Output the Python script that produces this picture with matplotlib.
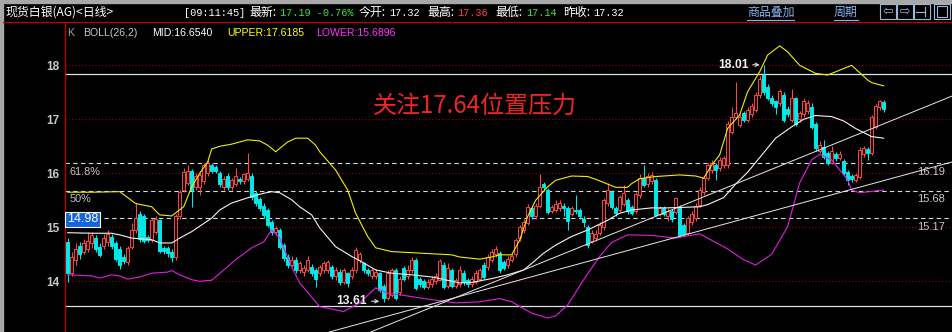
import matplotlib
matplotlib.use('Agg')
import matplotlib.pyplot as plt
from matplotlib.patches import Rectangle
from matplotlib.lines import Line2D
import numpy as np

W, H = 952, 332

# ---------------- data ----------------
ohlc = [
    # open, close, high, low
    (14.73, 14.15, 14.80, 13.99), (14.15, 14.45, 14.55, 14.10), (14.40, 14.60, 14.70, 14.30),
    (14.65, 14.50, 14.72, 14.42), (14.55, 14.70, 14.78, 14.50), (14.60, 14.75, 14.92, 14.55),
    (14.70, 14.85, 14.92, 14.62), (14.80, 14.60, 14.85, 14.55), (14.64, 14.48, 14.70, 14.45),
    (14.65, 14.80, 14.88, 14.60), (14.72, 14.88, 14.95, 14.65), (14.82, 14.65, 14.88, 14.60),
    (14.70, 14.42, 14.75, 14.38), (14.60, 14.30, 14.65, 14.22), (14.45, 14.38, 14.50, 14.32),
    (14.36, 14.62, 14.66, 14.30), (14.64, 14.95, 15.08, 14.60), (14.95, 15.17, 15.45, 14.90),
    (15.25, 14.78, 15.30, 14.72), (15.20, 14.75, 15.24, 14.70), (14.82, 14.76, 14.86, 14.72),
    (14.76, 15.13, 15.18, 14.72), (14.92, 15.16, 15.20, 14.88), (15.13, 14.56, 15.16, 14.52),
    (14.62, 14.56, 14.66, 14.50), (14.62, 14.52, 14.66, 14.45), (14.55, 14.45, 14.60, 14.36),
    (14.45, 15.20, 15.24, 14.40), (15.20, 15.66, 15.70, 15.15), (15.70, 16.02, 16.10, 15.65),
    (15.82, 16.05, 16.15, 15.78), (16.05, 15.70, 16.08, 15.38), (15.75, 15.95, 16.00, 15.70),
    (15.75, 15.97, 16.02, 15.60), (15.85, 16.15, 16.20, 15.80), (16.00, 16.20, 16.25, 15.95),
    (16.15, 16.05, 16.20, 16.00), (16.12, 16.05, 16.16, 16.00), (16.00, 15.80, 16.05, 15.75),
    (15.75, 15.90, 15.95, 15.70), (15.95, 15.75, 16.00, 15.70), (15.75, 15.88, 15.92, 15.70),
    (15.80, 15.95, 16.10, 15.76), (15.90, 15.85, 15.94, 15.80), (15.85, 15.98, 16.00, 15.80),
    (15.90, 16.00, 16.37, 15.86), (15.95, 15.56, 16.00, 15.50), (15.63, 15.45, 15.68, 15.40),
    (15.52, 15.35, 15.56, 15.30), (15.40, 15.23, 15.45, 15.18), (15.32, 15.05, 15.36, 15.00),
    (15.10, 14.91, 15.14, 14.86), (14.92, 14.98, 15.02, 14.88), (14.95, 14.64, 14.98, 14.60),
    (14.67, 14.43, 14.70, 14.38), (14.45, 14.30, 14.50, 14.25), (14.30, 14.40, 14.46, 14.26),
    (14.39, 14.21, 14.45, 14.15), (14.21, 14.33, 14.38, 14.16), (14.18, 14.25, 14.30, 14.10),
    (14.21, 14.39, 14.46, 14.18), (14.27, 14.15, 14.32, 14.10), (14.21, 14.05, 14.25, 13.90),
    (14.15, 14.27, 14.30, 14.10), (14.21, 14.33, 14.38, 14.16), (14.21, 14.36, 14.40, 14.15),
    (14.27, 14.09, 14.30, 14.04), (14.09, 14.21, 14.26, 14.02), (14.18, 13.99, 14.22, 13.94),
    (13.99, 14.21, 14.25, 13.95), (14.15, 13.96, 14.18, 13.90), (14.09, 14.21, 14.26, 14.05),
    (14.20, 14.58, 14.63, 14.15), (14.39, 14.50, 14.55, 14.33), (14.33, 14.21, 14.36, 14.15),
    (14.21, 14.15, 14.25, 14.10), (14.09, 14.21, 14.25, 14.05), (14.10, 14.18, 14.22, 14.05),
    (14.15, 13.84, 14.18, 13.80), (13.92, 13.69, 13.95, 13.61), (13.69, 14.15, 14.20, 13.65),
    (13.75, 14.20, 14.24, 13.70), (14.21, 13.69, 14.25, 13.66), (13.80, 14.05, 14.10, 13.75),
    (14.25, 14.05, 14.28, 14.00), (14.10, 14.20, 14.30, 14.05), (14.20, 14.40, 14.45, 14.15),
    (14.40, 13.88, 14.43, 13.84), (14.05, 13.95, 14.08, 13.90), (14.00, 13.90, 14.05, 13.86),
    (13.90, 13.99, 14.04, 13.86), (13.95, 14.05, 14.10, 13.90), (14.00, 14.10, 14.15, 13.95),
    (14.03, 14.37, 14.42, 14.00), (14.30, 13.90, 14.35, 13.86), (13.92, 14.25, 14.33, 13.88),
    (14.20, 13.92, 14.24, 13.88), (13.92, 14.02, 14.07, 13.88), (13.95, 14.20, 14.28, 13.90),
    (14.15, 13.98, 14.20, 13.93), (14.02, 13.95, 14.06, 13.90), (13.95, 14.05, 14.10, 13.90),
    (13.99, 14.15, 14.20, 13.95), (14.05, 14.20, 14.25, 14.00), (14.30, 14.08, 14.35, 14.05),
    (14.26, 14.45, 14.50, 14.20), (14.40, 14.55, 14.60, 14.35), (14.50, 14.60, 14.65, 14.45),
    (14.52, 14.20, 14.56, 14.15), (14.35, 14.25, 14.40, 14.20), (14.30, 14.42, 14.47, 14.25),
    (14.40, 14.47, 14.52, 14.35), (14.50, 14.76, 14.80, 14.45), (14.80, 15.00, 15.05, 14.75),
    (14.95, 15.10, 15.15, 14.90), (15.08, 15.38, 15.44, 15.04), (15.35, 15.20, 15.40, 15.15),
    (15.20, 15.40, 15.45, 15.15), (15.40, 15.75, 15.98, 15.35), (15.80, 15.74, 15.84, 15.70),
    (15.69, 15.28, 15.72, 15.24), (15.30, 15.38, 15.42, 15.26), (15.32, 15.44, 15.50, 15.28),
    (15.35, 15.45, 15.50, 15.30), (15.40, 15.35, 15.45, 15.20), (15.35, 15.12, 15.40, 14.95),
    (15.25, 15.35, 15.40, 15.20), (15.32, 15.30, 15.60, 15.25), (15.32, 15.20, 15.36, 15.15),
    (15.16, 15.10, 15.20, 15.01), (15.01, 14.67, 15.05, 14.62), (14.75, 14.90, 14.95, 14.70),
    (14.80, 14.88, 14.95, 14.75), (14.90, 15.05, 15.10, 14.85), (15.00, 15.50, 15.55, 14.95),
    (15.45, 15.69, 15.82, 15.40), (15.65, 15.38, 15.70, 15.34), (15.35, 15.26, 15.40, 15.20),
    (15.32, 15.56, 15.60, 15.28), (15.44, 15.63, 15.79, 15.40), (15.50, 15.30, 15.55, 15.25),
    (15.38, 15.26, 15.42, 15.22), (15.30, 15.62, 15.66, 15.26), (15.60, 15.92, 15.98, 15.55),
    (15.91, 15.78, 16.15, 15.74), (15.80, 15.95, 16.00, 15.75), (15.85, 15.97, 16.02, 15.80),
    (15.88, 15.23, 15.92, 15.20), (15.25, 15.35, 15.40, 15.20), (15.35, 15.25, 15.40, 15.20),
    (15.20, 15.30, 15.35, 15.12), (15.30, 15.15, 15.34, 15.10), (15.29, 15.54, 15.57, 15.25),
    (15.38, 14.86, 15.42, 14.82), (15.04, 14.88, 15.08, 14.84), (14.89, 15.17, 15.20, 14.85),
    (15.10, 15.25, 15.30, 15.05), (15.17, 15.40, 15.45, 15.12), (15.41, 15.70, 15.74, 15.37),
    (15.65, 15.91, 15.95, 15.60), (15.91, 16.15, 16.20, 15.88), (16.06, 16.20, 16.24, 16.00),
    (16.15, 16.06, 16.20, 15.88), (16.10, 16.25, 16.30, 16.05), (16.15, 16.28, 16.32, 16.10),
    (16.15, 16.92, 16.96, 16.10), (16.77, 17.05, 17.23, 16.72), (17.05, 17.11, 17.70, 17.00),
    (16.90, 17.05, 17.10, 16.86), (17.11, 16.99, 17.15, 16.95), (16.99, 17.17, 17.22, 16.95),
    (17.10, 17.25, 17.30, 17.05), (17.17, 17.45, 17.50, 17.13), (17.45, 17.75, 17.80, 17.40),
    (17.82, 17.50, 18.01, 17.45), (17.60, 17.39, 17.65, 17.35), (17.40, 17.30, 17.45, 17.25),
    (17.33, 17.23, 17.36, 17.10), (17.30, 17.52, 17.57, 17.25), (17.45, 16.99, 17.50, 16.95),
    (17.20, 17.10, 17.25, 17.05), (16.99, 17.40, 17.57, 16.95), (17.39, 16.92, 17.42, 16.88),
    (17.00, 17.12, 17.16, 16.95), (17.10, 17.33, 17.39, 17.05), (17.15, 17.30, 17.36, 17.10),
    (17.23, 16.86, 17.30, 16.82), (16.92, 16.46, 16.95, 16.42), (16.42, 16.52, 16.60, 16.38),
    (16.48, 16.30, 16.62, 16.26), (16.38, 16.20, 16.42, 16.16), (16.20, 16.42, 16.50, 16.17),
    (16.35, 16.28, 16.40, 16.22), (16.28, 16.36, 16.42, 16.24), (16.22, 16.00, 16.26, 15.96),
    (16.03, 15.88, 16.06, 15.78), (15.95, 15.90, 15.98, 15.84), (15.88, 15.96, 16.00, 15.84),
    (15.94, 16.43, 16.48, 15.90), (16.35, 16.46, 16.50, 16.30), (16.45, 16.38, 16.48, 16.25),
    (16.37, 17.05, 17.08, 16.33), (16.86, 17.24, 17.28, 16.82), (17.22, 17.33, 17.36, 17.18),
    (17.32, 17.19, 17.36, 17.14),
]
opens = [r[0] for r in ohlc]
closes = [r[1] for r in ohlc]
highs = [r[2] for r in ohlc]
lows = [r[3] for r in ohlc]

upper_idx = [0, 6, 13, 17, 21, 23, 26, 29, 31, 33, 35, 36, 38, 41, 45, 48, 50, 52, 55, 57, 60, 62,
             63, 67, 70, 72, 75, 77, 81, 86, 91, 96, 98, 103, 106, 108, 111, 113, 115, 117, 120, 122,
             126, 130, 132, 135, 137, 140, 141, 143, 147, 153, 157, 159, 161, 163, 165, 168, 170,
             173, 175, 178, 180, 183, 187, 190, 193, 196, 200, 201, 204]
upper_val = [15.65, 15.65, 15.66, 15.44, 15.38, 15.23, 15.21, 15.38, 15.75, 16.00, 16.21, 16.45, 16.50,
             16.54, 16.62, 16.60, 16.52, 16.40, 16.58, 16.65, 16.65, 16.52, 16.40, 16.06, 15.69, 15.26,
             14.83, 14.62, 14.55, 14.53, 14.51, 14.49, 14.45, 14.41, 14.45, 14.49, 14.49, 14.76, 15.20,
             15.50, 15.75, 15.87, 15.95, 15.94, 15.89, 15.80, 15.74, 15.74, 15.81, 15.90, 15.94, 15.97,
             15.95, 15.91, 16.15, 16.34, 16.83, 17.08, 17.51, 17.88, 18.19, 18.36, 18.25, 18.00, 17.85,
             17.82, 17.91, 18.00, 17.73, 17.68, 17.62]

mid_idx = [0, 6, 11, 13, 16, 21, 23, 26, 28, 31, 33, 36, 38, 41, 46, 49, 51, 53, 56, 58, 61, 63, 67,
           71, 74, 77, 81, 86, 91, 93, 98, 101, 106, 110, 114, 116, 119, 122, 126, 130, 135, 138, 141,
           146, 150, 158, 160, 164, 167, 170, 174, 177, 181, 184, 187, 191, 194, 197, 201, 204]
mid_val = [14.90, 14.89, 14.89, 14.86, 14.80, 14.77, 14.71, 14.71, 14.80, 14.92, 15.02, 15.17, 15.32,
           15.45, 15.57, 15.63, 15.66, 15.64, 15.51, 15.38, 15.23, 14.99, 14.64, 14.46, 14.34, 14.21,
           14.15, 14.12, 14.08, 14.05, 13.97, 13.98, 14.05, 14.12, 14.21, 14.33, 14.52, 14.67, 14.83,
           14.95, 15.13, 15.26, 15.32, 15.36, 15.36, 15.38, 15.42, 15.55, 15.80, 16.02, 16.38, 16.65,
           16.86, 17.00, 17.07, 17.05, 16.97, 16.83, 16.68, 16.65]

lower_idx = [0, 6, 8, 11, 13, 15, 18, 21, 25, 26, 28, 31, 33, 36, 40, 42, 46, 49, 51, 53, 56, 58, 61,
             63, 69, 73, 77, 80, 83, 91, 97, 103, 108, 111, 116, 120, 122, 125, 129, 133, 136, 140, 146,
             152, 158, 161, 165, 169, 172, 176, 180, 183, 186, 188, 191, 195, 196, 198, 204]
lower_val = [14.12, 14.10, 14.06, 14.12, 14.10, 14.04, 14.08, 14.15, 14.17, 14.20, 14.12, 14.03, 14.00,
             14.02, 14.27, 14.40, 14.62, 14.73, 14.95, 14.80, 14.27, 13.97, 13.71, 13.53, 13.44, 13.60,
             13.88, 13.78, 13.75, 13.66, 13.60, 13.62, 13.68, 13.62, 13.41, 13.32, 13.36, 13.56, 14.03,
             14.46, 14.72, 14.86, 14.85, 14.80, 14.88, 14.76, 14.60, 14.40, 14.30, 14.50, 15.01, 15.82,
             16.25, 16.35, 16.25, 15.88, 15.69, 15.64, 15.69]

grid_levels = [14, 15, 16, 17, 18]
fib_dashed = [16.19, 15.68, 15.17]
fib_dashed_labels = ['16.19', '15.68', '15.17']
fib_solid = [17.84, 13.54]
trend_a = [(140.6, 15.01), (221.1, 17.43)]
trend_b = [(133.1, 14.43), (221.1, 16.21)]

# ---------------- figure ----------------
fig = plt.figure(figsize=(W / 100, H / 100), dpi=100, facecolor='black')
ax = fig.add_axes([65 / W, 0, (W - 65) / W, (H - 22) / H])
ax.set_facecolor('black')
ax.set_xlim(-0.675, 221.1)
ax.set_ylim(13.061, 18.802)

for s in ['top', 'right', 'bottom']:
    ax.spines[s].set_visible(False)
ax.spines['left'].set_color('#c00000')
ax.spines['left'].set_linewidth(0.9)
ax.set_xticks([])
ax.set_yticks(grid_levels)
ax.set_yticklabels([str(v) for v in grid_levels], family='Liberation Sans',
                   fontweight='bold', fontsize=8.5, color='#c8c8c8')
ax.tick_params(axis='y', length=0, pad=4)

for v in grid_levels:
    ax.axhline(v, color='#9a0000', ls=(0, (1, 2)), lw=0.8, zorder=1)
for v in fib_dashed:
    ax.axhline(v, color='#d8d8d8', ls=(0, (4, 3)), lw=0.8, zorder=1)
for v in fib_solid:
    ax.axhline(v, color='#e0e0e0', lw=0.9, zorder=1)

# candles
RED, CYAN = '#ff4646', '#00e8e8'
x = np.arange(len(closes))
for i in x:
    o, c, h, l = opens[i], closes[i], highs[i], lows[i]
    up = c >= o
    col = RED if up else CYAN
    ax.vlines(i, l, h, color=col, lw=0.75, zorder=2)
    bot = min(o, c)
    ht = max(abs(c - o), 0.015)
    ax.add_patch(Rectangle((i - 0.34, bot), 0.68, ht, facecolor='black' if up else col,
                           edgecolor=col, lw=0.7, zorder=3))

# bollinger
ax.plot(upper_idx, upper_val, color='#f0f000', lw=0.8, zorder=4)
ax.plot(mid_idx, mid_val, color='#f4f4f4', lw=0.8, zorder=4)
ax.plot(lower_idx, lower_val, color='#e020e0', lw=0.8, zorder=4)

# trend lines
ax.axline(trend_a[0], trend_a[1], color='#e8e8e8', lw=0.7, zorder=4)
ax.axline(trend_b[0], trend_b[1], color='#e8e8e8', lw=0.7, zorder=4)

# fib labels
lab_kw = dict(family='Liberation Sans', fontsize=7.8, color='#c8c8c8')
ax.annotate('61.8%', xy=(-0.675, 16.19), xytext=(3, -2.5), textcoords='offset points',
            ha='left', va='top', **lab_kw)
ax.annotate('50%', xy=(-0.675, 15.68), xytext=(3, -2.5), textcoords='offset points',
            ha='left', va='top', **lab_kw)
for v, s in zip(fib_dashed, fib_dashed_labels):
    ax.annotate(s, xy=(221.1, v), xytext=(-5, -2.5), textcoords='offset points',
                ha='right', va='top', family='Liberation Sans', fontsize=8, color='#c8c8c8')

# high / low markers
ax.text(170.2, 18.0, '18.01', ha='right', va='center', family='Liberation Sans',
        fontweight='bold', fontsize=8.7, color='#f0f0f0', zorder=6)
ax.annotate('', xy=(173.7, 18.01), xytext=(170.6, 18.01),
            arrowprops=dict(arrowstyle='->', color='#e0e0e0', lw=0.8, mutation_scale=6), zorder=6)
ax.text(74.8, 13.64, '13.61', ha='right', va='center', family='Liberation Sans',
        fontweight='bold', fontsize=8.7, color='#f0f0f0', zorder=6)
ax.annotate('', xy=(78.6, 13.63), xytext=(75.3, 13.63),
            arrowprops=dict(arrowstyle='->', color='#e0e0e0', lw=0.8, mutation_scale=6), zorder=6)

# annotation
ax.text(101.8, 17.26, '关注17.64位置压力', ha='center', va='center',
        family=['Noto Sans CJK SC', 'DejaVu Sans'], fontsize=17.3, color='#f02424', zorder=6)

# ---------------- frame / header ----------------
def ft(px, py, s, **kw):
    fig.text(px / W, 1 - py / H, s, va='center', **kw)

fig.add_artist(Rectangle((0, 0), 3 / W, 1, transform=fig.transFigure, color='#a8a8a8', zorder=0))
fig.add_artist(Rectangle((0, 1 - 3 / H), 1, 3 / H, transform=fig.transFigure, color='#a8a8a8', zorder=0))
fig.add_artist(Line2D([3 / W, 1], [1 - 22 / H] * 2, transform=fig.transFigure, color='#c00000', lw=0.9))

mono = dict(family=['Liberation Mono', 'Noto Sans CJK SC'], fontsize=7.4)
cjk = dict(family=['Noto Sans CJK SC', 'DejaVu Sans'], fontsize=8.6)
GREEN = '#40e040'
ft(5, 12.5, '现货白银(AG)<日线>', color='white', **cjk)
ft(184, 12.5, '[09:11:45]', color='white', **mono)
ft(249, 12.5, '最新:', color='white', **cjk)
ft(280, 12.5, '17.19 -0.76%', color=GREEN, **mono)
ft(359, 12.5, '今开:', color='white', **cjk)
ft(389, 12.5, '17.32', color='white', **mono)
ft(427, 12.5, '最高:', color='white', **cjk)
ft(457, 12.5, '17.36', color='#ff4040', **mono)
ft(495, 12.5, '最低:', color='white', **cjk)
ft(526, 12.5, '17.14', color=GREEN, **mono)
ft(563, 12.5, '昨收:', color='white', **cjk)
ft(593, 12.5, '17.32', color='white', **mono)
LINK = '#88b4ec'
ft(747, 12.5, '商品叠加', color=LINK, **cjk)
ft(834, 12.5, '周期', color=LINK, **cjk)
fig.add_artist(Line2D([747 / W, 794 / W], [1 - 20 / H] * 2, transform=fig.transFigure, color=LINK, lw=0.8))
fig.add_artist(Line2D([834 / W, 858 / W], [1 - 20 / H] * 2, transform=fig.transFigure, color=LINK, lw=0.8))

ICON = '#9cb8d8'
for (x0, x1) in [(880, 896), (897, 913), (914, 930), (934, 950)]:
    fig.add_artist(Rectangle((x0 / W, 1 - 19 / H), (x1 - x0) / W, 15 / H, transform=fig.transFigure,
                             fill=False, edgecolor=ICON, lw=0.8))
ft(888, 11.5, '⇦', color=ICON, ha='center', family='DejaVu Sans', fontsize=9)
ft(905, 11.5, '⇨', color=ICON, ha='center', family='DejaVu Sans', fontsize=9)
fig.add_artist(Line2D([916 / W, 925 / W], [1 - 11.5 / H] * 2, transform=fig.transFigure, color=ICON, lw=0.8))
fig.add_artist(Line2D([925 / W, 925 / W], [1 - 7 / H, 1 - 16 / H], transform=fig.transFigure, color=ICON, lw=0.8))
fig.add_artist(Rectangle((937 / W, 1 - 16.5 / H), 10 / W, 10 / H, transform=fig.transFigure,
                         fill=False, edgecolor=ICON, lw=0.8))

sub = dict(family='Liberation Sans', fontsize=7.6)
ft(67, 32.5, 'K', color='#a0a0a0', **sub)
ft(83, 32.5, 'BOLL(26,2)', color='#c8c8c8', **sub)
ft(152, 32.5, 'MID:16.6540', color='white', **sub)
ft(227, 32.5, 'UPPER:17.6185', color='#ffff00', **sub)
ft(316, 32.5, 'LOWER:15.6896', color='#ff30ff', **sub)

# current price tag
ft(67, 219.5, '14.98', color='white', family='Liberation Sans', fontsize=9,
   bbox=dict(boxstyle='square,pad=0.15', facecolor='#1464dc', edgecolor='white', lw=0.8))

fig.savefig('out.png', dpi=100, facecolor='black')
